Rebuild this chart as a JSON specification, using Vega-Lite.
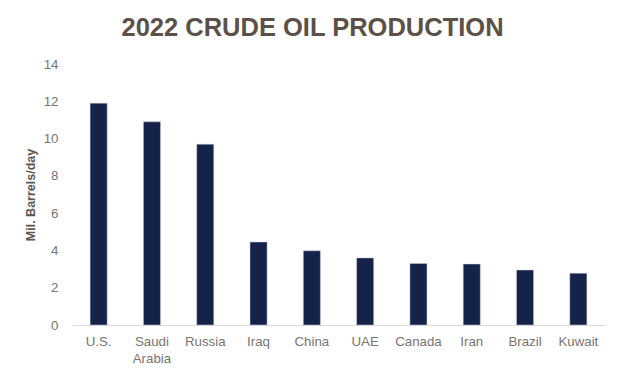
{
  "$schema": "https://vega.github.io/schema/vega-lite/v6.json",
  "width": 533,
  "height": 261,
  "autosize": {"type": "none"},
  "padding": {"left": 72, "top": 64, "right": 19, "bottom": 53},
  "background": "white",
  "title": {
    "text": "2022 CRUDE OIL PRODUCTION",
    "anchor": "middle",
    "frame": "group",
    "dx": -26,
    "offset": 16,
    "font": "Liberation Sans",
    "fontSize": 25.5,
    "fontWeight": "bold",
    "color": "#5b5149"
  },
  "data": {
    "values": [
      {"country": "U.S.", "production": 11.9},
      {"country": "Saudi Arabia", "production": 10.9},
      {"country": "Russia", "production": 9.7},
      {"country": "Iraq", "production": 4.45},
      {"country": "China", "production": 3.98},
      {"country": "UAE", "production": 3.6},
      {"country": "Canada", "production": 3.3},
      {"country": "Iran", "production": 3.27},
      {"country": "Brazil", "production": 2.95},
      {"country": "Kuwait", "production": 2.78}
    ]
  },
  "mark": {"type": "bar", "color": "#15224a", "stroke": "#c9cfdc", "strokeWidth": 0.5},
  "encoding": {
    "x": {
      "field": "country",
      "type": "nominal",
      "sort": null,
      "scale": {"paddingInner": 0.68, "paddingOuter": 0.34},
      "axis": {
        "title": null,
        "labelAngle": 0,
        "labelFont": "Liberation Sans",
        "labelFontSize": 13.3,
        "labelColor": "#7a7470",
        "labelPadding": 9,
        "labelLineHeight": 17,
        "labelExpr": "split(datum.value, ' ')",
        "ticks": false,
        "domainColor": "#d9d9d9",
        "domainWidth": 1
      }
    },
    "y": {
      "field": "production",
      "type": "quantitative",
      "scale": {"domain": [0, 14]},
      "axis": {
        "title": "Mil. Barrels/day",
        "values": [0, 2, 4, 6, 8, 10, 12, 14],
        "grid": false,
        "domain": false,
        "ticks": false,
        "labelFont": "Liberation Sans",
        "labelFontSize": 13.3,
        "labelColor": "#7a7470",
        "labelPadding": 14,
        "titleFont": "Liberation Sans",
        "titleFontSize": 12.5,
        "titleFontWeight": "bold",
        "titleColor": "#5b5651",
        "titlePadding": 6
      }
    }
  },
  "config": {
    "view": {"stroke": null}
  }
}
